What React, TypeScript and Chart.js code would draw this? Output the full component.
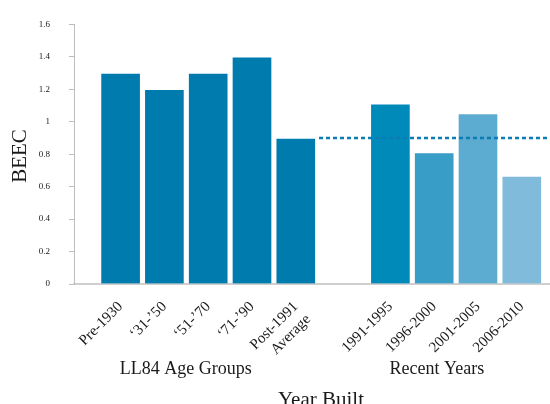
import { useEffect, useRef } from "react";
import { Chart, registerables } from "chart.js";

Chart.register(...registerables);

// Building energy efficiency coefficient by construction period
const categories: (string | string[])[] = [
  "Pre-1930",
  "‘31-’50",
  "‘51-’70",
  "‘71-’90",
  ["Post-1991", "Average"],
  "1991-1995",
  "1996-2000",
  "2001-2005",
  "2006-2010",
];
const beecValues = [1.3, 1.2, 1.3, 1.4, 0.9, 1.11, 0.81, 1.05, 0.665];
const barColors = [
  "#007bae",
  "#007bae",
  "#007bae",
  "#007bae",
  "#007bae",
  "#008ab9",
  "#389dc7",
  "#5cabd0",
  "#80bbdb",
];
const yTicks = { min: 0, max: 1.6, step: 0.2 };

// The second group sits after a gap on the same axis
const firstGroupSize = 5;
const groupGap = 1.16;
const positions = categories.map((_, i) => (i < firstGroupSize ? i : i + groupGap));
const axisMin = -1.064;
const axisMax = 9.804;

// Post-1991 average carried across the recent years as a reference line
const averageIndex = 4;
const averageValue = beecValues[averageIndex];
const averageLineStart = positions[averageIndex] + 0.53;

const groupLabels = ["LL84 Age Groups", "Recent Years"];
const groupLabelAt = [1.49, 7.22];
const xTitle = "Year Built";
const yTitle = "BEEC";

const serif = '"Liberation Serif", "Times New Roman", serif';

const annotationPlugin = {
  id: "annotationText",
  afterDraw(chart: any) {
    const { ctx } = chart;
    const xScale = chart.scales.x;
    ctx.save();
    ctx.fillStyle = "#1a1a1a";
    ctx.textAlign = "center";
    ctx.textBaseline = "alphabetic";
    ctx.font = `18px ${serif}`;
    groupLabels.forEach((t, i) => {
      ctx.fillText(t, xScale.getPixelForValue(groupLabelAt[i]), 374);
    });
    ctx.font = `21px ${serif}`;
    ctx.fillText(xTitle, 321, 406);
    ctx.translate(20, 156);
    ctx.rotate(-Math.PI / 2);
    ctx.textBaseline = "middle";
    ctx.fillText(yTitle, 0, 0);
    ctx.restore();
  },
};

export default function App() {
  const canvasRef = useRef<HTMLCanvasElement | null>(null);

  useEffect(() => {
    document.body.style.margin = "0";
    const canvas = canvasRef.current;
    if (!canvas) return;

    const chart = new Chart(canvas, {
      type: "bar",
      data: {
        datasets: [
          {
            type: "line",
            data: [
              { x: averageLineStart, y: averageValue },
              { x: axisMax, y: averageValue },
            ],
            borderColor: "#0b7db4",
            borderWidth: 2.5,
            borderDash: [4, 3],
            pointRadius: 0,
            order: 1,
          } as any,
          {
            type: "bar",
            data: positions.map((x, i) => ({ x, y: beecValues[i] })),
            backgroundColor: barColors,
            borderColor: "rgba(255,255,255,0.45)",
            borderWidth: 1,
            barThickness: 40,
            order: 2,
          } as any,
        ],
      },
      options: {
        responsive: false,
        animation: false,
        devicePixelRatio: 1,
        layout: { padding: { top: 15, left: 0, right: 0, bottom: 0 } },
        plugins: {
          legend: { display: false },
          tooltip: { enabled: false },
        },
        scales: {
          x: {
            type: "linear",
            min: axisMin,
            max: axisMax,
            offset: false,
            bounds: "data",
            grid: { display: false },
            border: { display: true, color: "#cfcfcf", width: 2 },
            afterBuildTicks: (scale: any) => {
              scale.ticks = positions.map((v) => ({ value: v }));
            },
            afterFit: (scale: any) => {
              scale.height = 120;
            },
            ticks: {
              autoSkip: false,
              maxRotation: 45,
              minRotation: 45,
              padding: 6,
              color: "#1a1a1a",
              font: { family: serif, size: 15 },
              callback: (_v: any, i: number) => categories[i],
            },
          },
          y: {
            type: "linear",
            min: yTicks.min,
            max: yTicks.max,
            grid: {
              display: true,
              drawOnChartArea: false,
              drawTicks: true,
              tickLength: 5,
              color: "#bdbdbd",
            },
            border: { display: true, color: "#bdbdbd", width: 1 },
            afterFit: (scale: any) => {
              scale.width = 74;
            },
            ticks: {
              stepSize: yTicks.step,
              padding: 19,
              color: "#1a1a1a",
              font: { family: serif, size: 9 },
              callback: (v: any) => String(Math.round(Number(v) * 10) / 10),
            },
          },
        },
      },
      plugins: [annotationPlugin],
    });

    return () => chart.destroy();
  }, []);

  return (
    <div style={{ width: 550, height: 404 }}>
      <canvas ref={canvasRef} width={550} height={404} style={{ display: "block" }} />
    </div>
  );
}
